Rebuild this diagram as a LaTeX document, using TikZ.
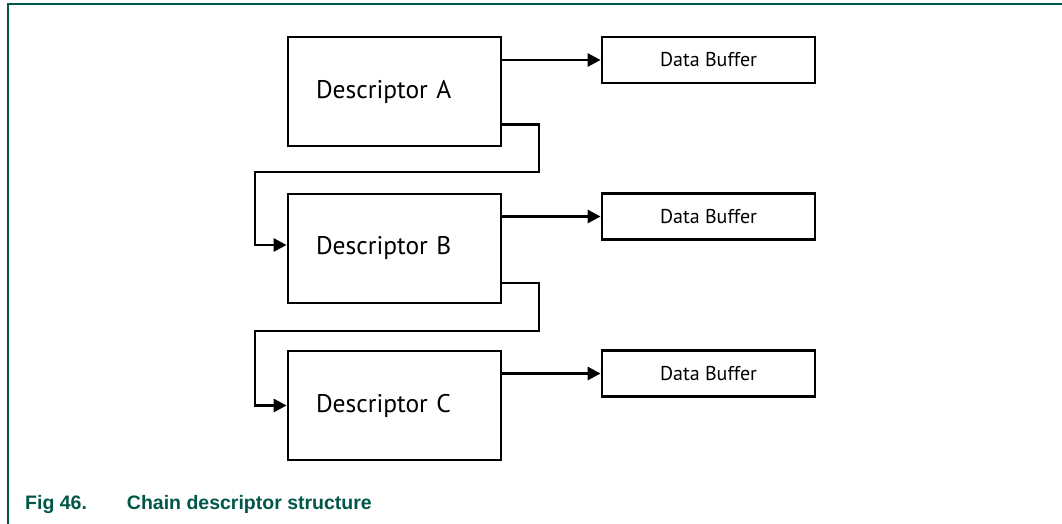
\documentclass[tikz,border=0pt]{standalone}
\usepackage{fontspec}
\setmainfont{PT Sans}
\newfontfamily\capfont{Liberation Sans}
\usetikzlibrary{arrows.meta,positioning}
\definecolor{figgreen}{RGB}{0,86,72}

\begin{document}
\begin{tikzpicture}[x=1pt,y=-1pt,
    descbox/.style={draw,line width=2.8pt,minimum height=109pt,text width=157pt,
      inner xsep=28pt,align=left,font=\fontsize{25.5}{30}\selectfont},
    bufbox/.style={draw,line width=2.8pt,minimum width=213pt,minimum height=46pt,
      font=\fontsize{20}{24}\selectfont},
    link/.style={line width=2.8pt,-{Triangle[length=13pt,width=13pt]}}]
    \useasboundingbox (0,0) rectangle (1062,524);

    % Frame
    \draw[figgreen,line width=2pt] (8,524) -- (8,4) -- (1062,4);

    % Descriptors
    \node[descbox] (descA) at (394.5,91.5) {Descriptor A};
    \node[descbox] (descB) at (394.5,248.5) {Descriptor B};
    \node[descbox] (descC) at (394.5,405.5) {Descriptor C};

    % Buffers
    \node[bufbox] (bufA) at (708.5,60) {Data Buffer};
    \node[bufbox] (bufB) at (708.5,216.5) {Data Buffer};
    \node[bufbox] (bufC) at (708.5,373.5) {Data Buffer};

    % Buffer pointers
    \draw[link] (descA.east |- bufA.west) -- (bufA.west);
    \draw[link] (descB.east |- bufB.west) -- (bufB.west);
    \draw[link] (descC.east |- bufC.west) -- (bufC.west);

    % Chain pointers
    \coordinate (bendAB1) at (539,172);
    \coordinate (bendAB2) at (255,172);
    \coordinate (bendBC1) at (539,331);
    \coordinate (bendBC2) at (255,331);
    \draw[link] ([yshift=-33pt]descA.east) -| (bendAB1) -- (bendAB2) |- ([yshift=3.5pt]descB.west);
    \draw[link] ([yshift=-34.5pt]descB.east) -| (bendBC1) -- (bendBC2) |- (descC.west);

    % Caption
    \node[anchor=base west,inner sep=0pt,text=figgreen,
      font=\capfont\bfseries\fontsize{19.5}{22}\selectfont] (caption) at (25,509)
      {Fig 46.\hspace{40pt}Chain descriptor structure};
\end{tikzpicture}
\end{document}
